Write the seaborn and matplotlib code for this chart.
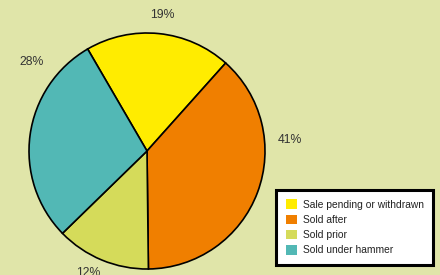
import numpy as np
import matplotlib
matplotlib.use('Agg')
import matplotlib.pyplot as plt
import seaborn as sns

# data
categories = ['Sale pending or withdrawn', 'Sold after', 'Sold prior', 'Sold under hammer']
shares = [20.0, 38.2, 12.9, 28.9]          # wedge sizes as drawn
pct_labels = ['19%', '41%', '12%', '28%']  # printed labels
colors = ['#ffec00', '#f07f00', '#d5db5a', '#52b8b5']

# label placement (angle in degrees, distance in radius units)
label_angles = [83.7, 4.4, -115.8, 142.4]
label_dist = [1.157, 1.214, 1.149, 1.235]

bg = '#e0e5a9'

sns.set_theme(style='white')
plt.rcParams['font.family'] = ['Liberation Sans', 'DejaVu Sans']

fig = plt.figure(figsize=(4.4, 2.75), dpi=100)
fig.patch.set_facecolor(bg)
ax = fig.add_axes([0.0659, 0.0218, 0.5364, 0.8582])
ax.set_facecolor(bg)

palette = sns.color_palette(colors)
wedges, _ = ax.pie(shares, colors=palette, startangle=120.2, counterclock=False,
                   wedgeprops=dict(edgecolor='black', linewidth=1.2))
ax.set_xlim(-1, 1)
ax.set_ylim(-1, 1)
ax.set_aspect('equal')
ax.axis('off')

for lab, ang, d in zip(pct_labels, label_angles, label_dist):
    a = np.deg2rad(ang)
    ax.text(d * np.cos(a), d * np.sin(a), lab, ha='center', va='center',
            fontsize=8.8, color='#333333', clip_on=False)

leg = fig.legend(wedges, categories, loc='lower right',
                 bbox_to_anchor=(0.985, 0.037), bbox_transform=fig.transFigure,
                 fontsize=7.4, frameon=True, fancybox=False, handlelength=1.1,
                 handleheight=1.1, handletextpad=0.5, labelspacing=0.45,
                 borderpad=0.95, borderaxespad=0, labelcolor='#222222')
frame = leg.get_frame()
frame.set_edgecolor('black')
frame.set_linewidth(2.2)
frame.set_facecolor('white')
frame.set_alpha(1)
for h in leg.legend_handles:
    h.set_edgecolor('none')

fig.savefig('out.png', dpi=100, facecolor=bg)
